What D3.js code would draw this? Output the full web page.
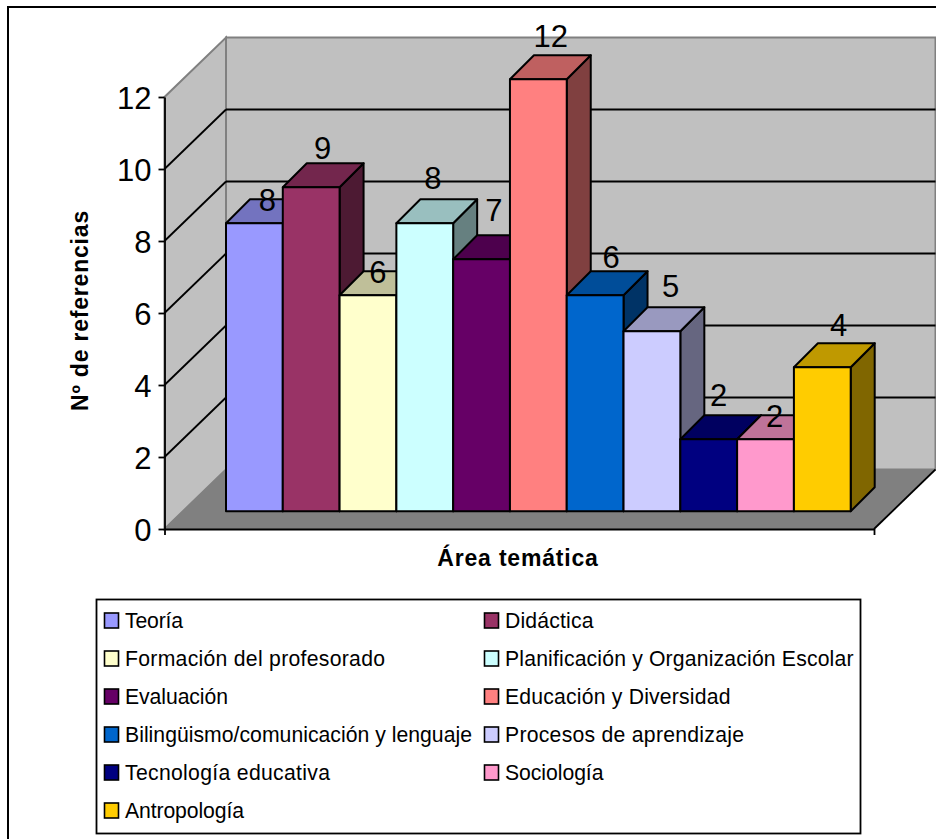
<!DOCTYPE html>
<html lang="es">
<head>
<meta charset="utf-8">
<title>Nº de referencias por área temática</title>
<script src="https://cdn.jsdelivr.net/npm/d3@7"></script>
<style>
  html, body { margin: 0; padding: 0; background: #fff; overflow: hidden; }
  svg { display: block; font-family: "Liberation Sans", Arial, sans-serif; }
</style>
</head>
<body>
<svg id="chart" width="936" height="839"></svg>
<script>
// Reference counts per subject area
const categories = [
  "Teoría", "Didáctica", "Formación del profesorado",
  "Planificación y Organización Escolar", "Evaluación", "Educación y Diversidad",
  "Bilingüismo/comunicación y lenguaje", "Procesos de aprendizaje",
  "Tecnología educativa", "Sociología", "Antropología"
];
const values = [8, 9, 6, 8, 7, 12, 6, 5, 2, 2, 4];
const colors = [
  "#9999ff", "#993366", "#ffffcc", "#ccffff", "#660066", "#ff8080",
  "#0066cc", "#ccccff", "#000080", "#ff99cc", "#ffcc00"
];
const yTicks = [0, 2, 4, 6, 8, 10, 12];

// Hand placement of the value labels, relative to each column's front top edge
const labelDx = [13, 11.5, 10, 8, 12.4, 12.4, 16, 18.7, 10, 9, 16.3];
const labelDy = [-12.5, -28.5, -12.5, -34.5, -38.5, -32.5, -27.5, -34.5, -33.5, -12, -31.5];
// Set widths of the legend entries, keeping the columns tidy
const legendWidths = [58, 88.5, 260, 348.5, 103, 225.5, 347, 239, 205, 98.5, 119];

const svg = d3.select("#chart");

// Oblique box: front plane on the axes, back wall shifted by (depthX, depthY)
const depthX = 61.5, depthY = -59.5;
const frontLeft = 164.5, frontRight = 874, frontBottom = 529, frontTop = 97;
const columnInsetY = -17.7;
const columnDepth = 24;

const y = d3.scaleLinear().domain([0, 12]).range([frontBottom, frontTop]);
const x = d3.scaleBand().domain(d3.range(categories.length)).range([226, 850.7]).padding(0);

const poly = pts => pts.map(p => p.join(",")).join(" ");
const line = (a, b, stroke, width) => svg.append("line")
  .attr("x1", a[0]).attr("y1", a[1]).attr("x2", b[0]).attr("y2", b[1])
  .attr("stroke", stroke).attr("stroke-width", width);

// Outer frame, cut off by the page on the right and at the bottom
svg.append("path")
  .attr("d", "M8,839V7H936")
  .attr("fill", "none").attr("stroke", "#000").attr("stroke-width", 2);

const backLeft = frontLeft + depthX, backRight = frontRight + depthX;
const wallGrey = "#c0c0c0", edgeGrey = "#808080";

// Back wall
svg.append("rect")
  .attr("x", backLeft).attr("y", y(12) + depthY)
  .attr("width", backRight - backLeft).attr("height", y(0) - y(12))
  .attr("fill", wallGrey).attr("stroke", edgeGrey).attr("stroke-width", 2);

// Side wall
svg.append("polygon")
  .attr("points", poly([
    [frontLeft, y(0)], [frontLeft, y(12)],
    [backLeft, y(12) + depthY], [backLeft, y(0) + depthY]
  ]))
  .attr("fill", wallGrey).attr("stroke", edgeGrey).attr("stroke-width", 2);

// Floor
svg.append("polygon")
  .attr("points", poly([
    [frontLeft, y(0)], [frontRight, y(0)],
    [backRight, y(0) + depthY], [backLeft, y(0) + depthY]
  ]))
  .attr("fill", edgeGrey);
line([frontRight, y(0)], [backRight, y(0) + depthY], "#000", 1.8);

// Gridlines wrap from the side wall onto the back wall
yTicks.filter(d => d > 0 && d < 12).forEach(d => {
  line([frontLeft, y(d)], [backLeft, y(d) + depthY], "#000", 1.8);
  line([backLeft, y(d) + depthY], [backRight, y(d) + depthY], "#000", 1.8);
});

// Axes
const yAxis = svg.append("g")
  .attr("transform", `translate(${frontLeft},0)`)
  .call(d3.axisLeft(y).tickValues(yTicks).tickSize(6).tickPadding(7).tickSizeOuter(0));
yAxis.selectAll("path, line").attr("stroke", "#000").attr("stroke-width", 1.8);
yAxis.selectAll("text")
  .attr("font-size", 31).attr("font-family", "'Liberation Sans', Arial, sans-serif")
  .attr("fill", "#000").attr("dy", "0.36em");

const xAxis = svg.append("g")
  .attr("transform", `translate(0,${frontBottom})`)
  .call(d3.axisBottom(d3.scaleLinear().domain([0, 1]).range([frontLeft, frontRight]))
    .tickValues([0, 1]).tickSize(6).tickSizeOuter(0).tickFormat(""));
xAxis.selectAll("path, line").attr("stroke", "#000").attr("stroke-width", 1.8);

// Columns, painted left to right so each one overlaps its neighbour's side
const base = y(0) + columnInsetY;
const shade = (c, k) => {
  const r = d3.rgb(c);
  return d3.rgb(r.r * k, r.g * k, r.b * k).formatHex();
};
const bars = svg.append("g").selectAll("g")
  .data(values)
  .join("g")
  .attr("stroke", "#000").attr("stroke-width", 2).attr("stroke-linejoin", "round");

const barTop = d => base - (y(0) - y(d));

bars.append("polygon") // side face
  .attr("points", (d, i) => {
    const r = x(i) + x.bandwidth(), t = barTop(d);
    return poly([[r, t], [r + columnDepth, t - columnDepth], [r + columnDepth, base - columnDepth], [r, base]]);
  })
  .attr("fill", (d, i) => shade(colors[i], 0.5));
bars.append("polygon") // top face
  .attr("points", (d, i) => {
    const l = x(i), r = l + x.bandwidth(), t = barTop(d);
    return poly([[l, t], [l + columnDepth, t - columnDepth], [r + columnDepth, t - columnDepth], [r, t]]);
  })
  .attr("fill", (d, i) => shade(colors[i], 0.75));
bars.append("rect") // front face
  .attr("x", (d, i) => x(i)).attr("y", barTop)
  .attr("width", x.bandwidth()).attr("height", d => base - barTop(d))
  .attr("fill", (d, i) => colors[i]);

// Value labels
svg.append("g").selectAll("text")
  .data(values)
  .join("text")
  .attr("x", (d, i) => x(i) + x.bandwidth() / 2 + labelDx[i])
  .attr("y", (d, i) => barTop(d) + labelDy[i])
  .attr("text-anchor", "middle").attr("font-size", 31).attr("fill", "#000")
  .text(d => d);

// Axis titles
svg.append("text")
  .attr("x", 518).attr("y", 566).attr("text-anchor", "middle")
  .attr("font-size", 23).attr("font-weight", "bold").attr("letter-spacing", 0.8)
  .text("Área temática");
svg.append("text")
  .attr("transform", "translate(88,310.5) rotate(-90)").attr("text-anchor", "middle")
  .attr("font-size", 23).attr("font-weight", "bold").attr("letter-spacing", 0.8)
  .text("Nº de referencias");

// Legend, two columns filled row by row
svg.append("rect")
  .attr("x", 96.5).attr("y", 599.5).attr("width", 764).attr("height", 234)
  .attr("fill", "#fff").attr("stroke", "#000").attr("stroke-width", 1.8);

const legendColX = d3.scaleOrdinal().domain([0, 1]).range([104.5, 484.5]);
const legendRowY = d3.scalePoint().domain(d3.range(6)).range([620.5, 810.5]);
const legendItems = svg.append("g").selectAll("g")
  .data(categories)
  .join("g")
  .attr("transform", (d, i) => `translate(${legendColX(i % 2)},${legendRowY(Math.floor(i / 2))})`);
legendItems.append("rect")
  .attr("x", 0).attr("y", -7.5).attr("width", 14).attr("height", 15)
  .attr("fill", (d, i) => colors[i]).attr("stroke", "#000").attr("stroke-width", 1.6);
legendItems.append("text")
  .attr("x", 20.5).attr("y", 7.5).attr("font-size", 21.2).attr("fill", "#000")
  .attr("textLength", (d, i) => legendWidths[i]).attr("lengthAdjust", "spacing")
  .text(d => d);
</script>
</body>
</html>
